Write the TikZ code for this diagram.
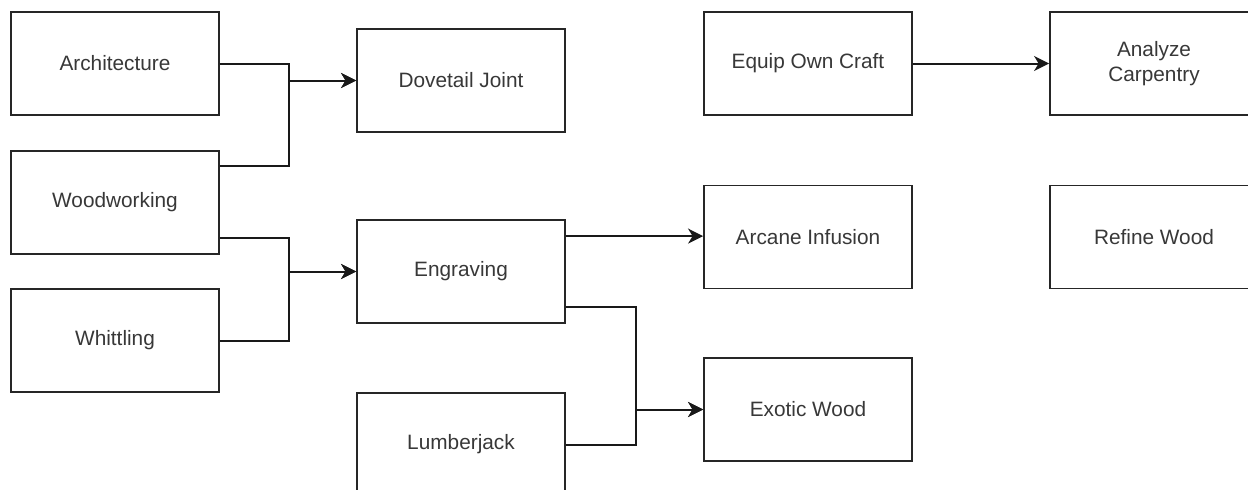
\documentclass[tikz,border=0pt]{standalone}
\usepackage{fontspec}
\setmainfont{Liberation Sans}
\usetikzlibrary{arrows.meta}
\begin{document}
\begin{tikzpicture}[x=1pt,y=-1pt,
  box/.style={draw=black!85, line width=1.8pt, fill=white, minimum width=208pt, minimum height=103pt,
    inner sep=0pt, align=center, text=black!78, font=\fontsize{20.8}{25}\selectfont},
  conn/.style={draw=black!90, line width=2pt},
  arr/.style={conn, -{Stealth[length=15pt,width=15pt,inset=4.5pt]}}]
\fill[white] (0,0) rectangle (1248,490);
\useasboundingbox (0,0) rectangle (1248,490);
\node[box] (arch) at (115,63.5) {Architecture};
\node[box] (wood) at (115,202.5) {Woodworking};
\node[box] (whit) at (115,340.5) {Whittling};
\node[box] (dove) at (461,80.5) {Dovetail Joint};
\node[box] (engr) at (461,271.5) {Engraving};
\node[box] (lumb) at (461,444.5) {Lumberjack};
\node[box] (equip) at (808,63.5) {Equip Own Craft};
\node[box] (analyze) at (1154,63.5) {Analyze\\Carpentry};
\node[box] (arcane) at (808,237) {Arcane Infusion};
\node[box] (refine) at (1154,237) {Refine Wood};
\node[box] (exotic) at (808,409.5) {Exotic Wood};
\coordinate (e1) at ([yshift=-17pt]engr.north east);
\draw[arr] (arch.east) -- ++(69,0) |- (dove.west);
\draw[arr] ([yshift=-16pt]wood.north east) -- ++(69,0) |- (dove.west);
\draw[arr] ([yshift=17pt]wood.south east) -- ++(69,0) |- (engr.west);
\draw[arr] (whit.east) -- ++(69,0) |- (engr.west);
\draw[arr] (e1) -- (e1 -| arcane.west);
\draw[arr] ([yshift=17pt]engr.south east) -- ++(70,0) |- (exotic.west);
\draw[arr] (lumb.east) -- ++(70,0) |- (exotic.west);
\draw[arr] (equip.east) -- (analyze.west);
\end{tikzpicture}
\end{document}
